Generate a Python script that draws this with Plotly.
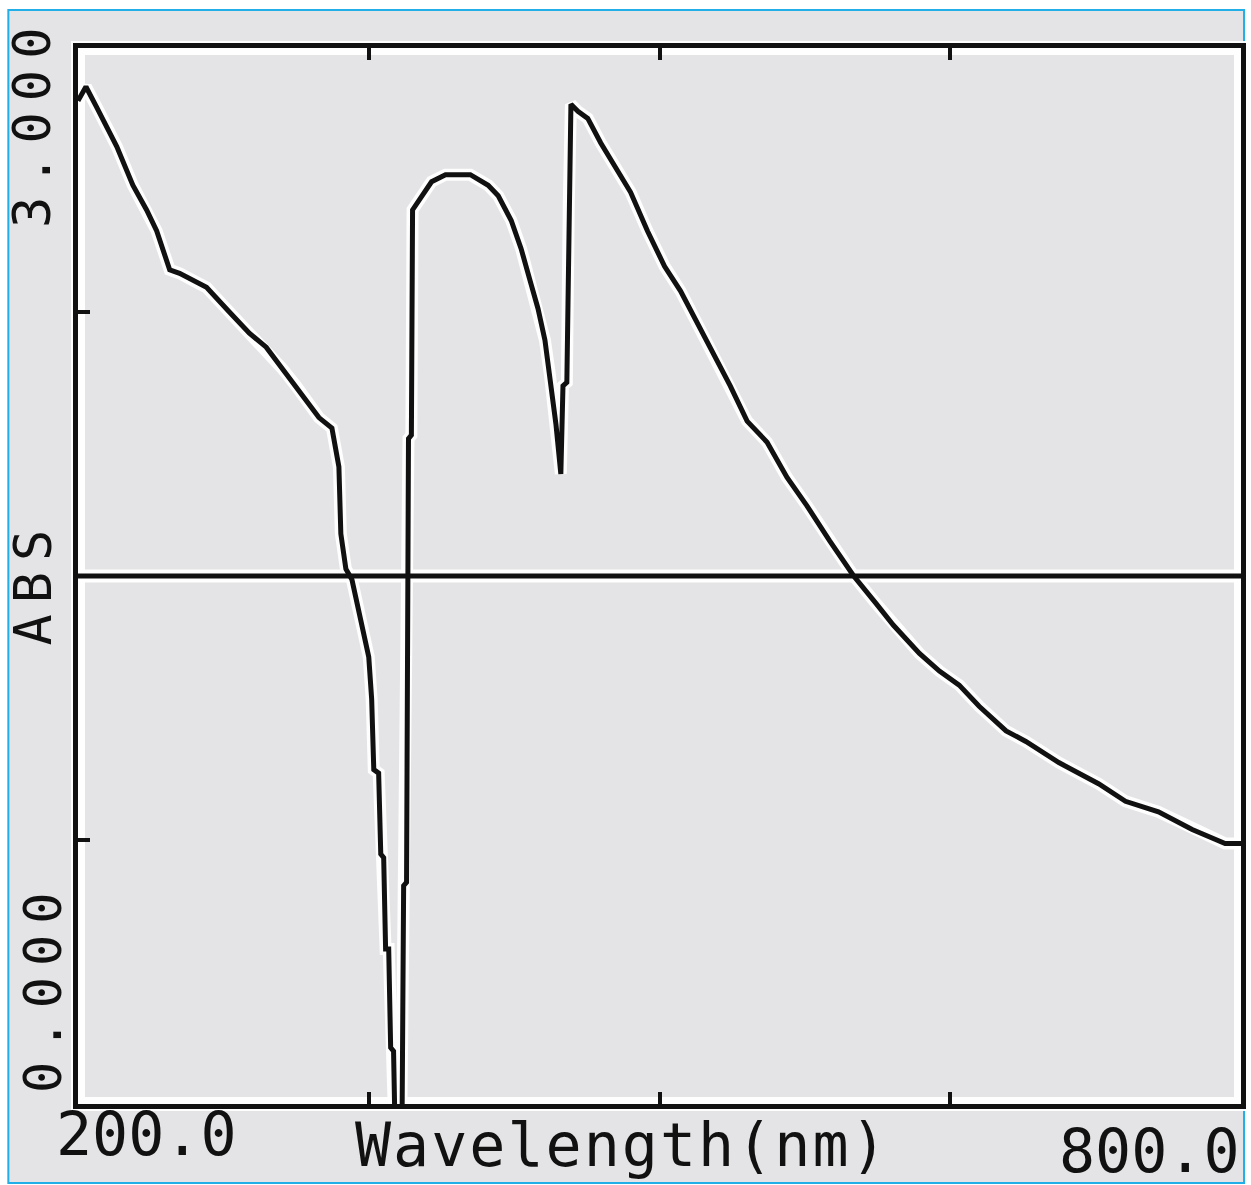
import plotly.graph_objects as go

# Absorbance spectrum, 200-800 nm
wavelength_nm = [
    200.0, 204.1, 209.8, 220.0, 228.3, 235.4, 240.6, 247.3, 252.4, 262.7,
    266.3, 278.1, 288.4, 297.1, 305.3, 312.5, 324.3, 331.0, 334.6, 335.6,
    338.2, 341.3, 343.8, 346.4, 350.0, 351.5, 352.6, 355.1, 356.2, 357.7,
    358.7, 360.3, 361.3, 362.8, 364.0, 366.5, 367.0, 368.0, 369.5, 370.5,
    372.0, 372.6, 382.4, 389.6, 402.4, 411.6, 416.8, 423.5, 428.6, 433.7,
    437.3, 440.9, 443.5, 445.0, 446.6, 449.1, 450.2, 452.2, 453.2, 454.3,
    457.9, 463.0, 469.7, 478.4, 485.1, 493.8, 502.6, 510.8, 519.5, 528.3,
    536.5, 545.2, 555.5, 565.8, 576.0, 587.8, 600.2, 612.0, 620.7, 634.1,
    644.4, 654.6, 664.9, 678.8, 689.0, 706.0, 726.5, 740.4, 757.4, 774.8,
    791.8, 800.0,
]
absorbance = [
    2.85, 2.89, 2.83, 2.72, 2.61, 2.54, 2.48, 2.37, 2.36, 2.33,
    2.32, 2.25, 2.19, 2.15, 2.09, 2.04, 1.95, 1.92, 1.81, 1.62,
    1.52, 1.49, 1.43, 1.37, 1.27, 1.15, 0.95, 0.94, 0.71, 0.70,
    0.44, 0.44, 0.16, 0.15, -0.20, -0.20, -0.20, 0.62, 0.63, 1.89,
    1.90, 2.54, 2.62, 2.64, 2.64, 2.61, 2.58, 2.51, 2.43, 2.33,
    2.26, 2.17, 2.07, 2.01, 1.93, 1.79, 2.04, 2.05, 2.56, 2.84,
    2.82, 2.80, 2.73, 2.65, 2.59, 2.48, 2.38, 2.31, 2.22, 2.13,
    2.04, 1.94, 1.88, 1.78, 1.70, 1.60, 1.50, 1.42, 1.36, 1.28,
    1.23, 1.19, 1.13, 1.06, 1.03, 0.97, 0.91, 0.86, 0.83, 0.78,
    0.74, 0.74,
]

x_range = [200, 800]
y_range = [0, 3]
x_ticks = [350, 500, 650]
y_ticks = [0.75, 1.5, 2.25]
reference_level = 1.5

x_min_label = "200.0"
x_max_label = "800.0"
x_title = "Wavelength(nm)"
y_min_label = "0.000"
y_max_label = "3.000"
y_title = "ABS"

INK = "#111111"
SCREEN = "#e4e4e6"
HALO = "rgba(255,255,255,0.95)"
FONT = "DejaVu Sans Mono"

fig = go.Figure()

# white glow behind the trace, then the trace itself
fig.add_trace(go.Scatter(
    x=wavelength_nm, y=absorbance, mode="lines",
    line=dict(color=HALO, width=12), hoverinfo="skip", showlegend=False,
))
fig.add_trace(go.Scatter(
    x=wavelength_nm, y=absorbance, mode="lines",
    line=dict(color=INK, width=5), showlegend=False,
))

shapes = [
    # screen panel with its cyan bezel
    dict(type="rect", xref="paper", yref="paper",
         x0=-0.0599, x1=1.0026, y0=-0.0748, y1=1.036,
         fillcolor=SCREEN, line=dict(color="#22aee6", width=2), layer="below"),
    # glow around the plot frame
    dict(type="rect", xref="paper", yref="paper", x0=0, x1=1, y0=0, y1=1,
         line=dict(color=HALO, width=14), layer="below"),
    # reference level line
    dict(type="line", xref="x", yref="y", x0=x_range[0], x1=x_range[1],
         y0=reference_level, y1=reference_level,
         line=dict(color=HALO, width=13), layer="below"),
    dict(type="line", xref="x", yref="y", x0=x_range[0], x1=x_range[1],
         y0=reference_level, y1=reference_level,
         line=dict(color=INK, width=5), layer="above"),
]


def label(text, x, y, size, spacing, angle=0):
    return dict(
        xref="paper", yref="paper", x=x, y=y, xanchor="center", yanchor="middle",
        text=f'<span style="letter-spacing:{spacing}px">{text}</span>',
        showarrow=False, textangle=angle,
        font=dict(family=FONT, size=size, color=INK),
    )


annotations = [
    label(y_max_label, -0.0394, 0.930, 52, 11, -90),
    label(y_title, -0.0385, 0.494, 52, 11, -90),
    label(y_min_label, -0.030, 0.111, 52, 11, -90),
    label(x_min_label, 0.0591, -0.0284, 60, 0),
    label(x_title, 0.468, -0.0388, 60, 2),
    label(x_max_label, 0.921, -0.0445, 60, 0),
]

fig.update_layout(
    width=1251, height=1185,
    margin=dict(l=78, r=5, t=48, b=81),
    paper_bgcolor="white",
    plot_bgcolor="rgba(0,0,0,0)",
    shapes=shapes,
    annotations=annotations,
    xaxis=dict(
        range=x_range, tickvals=x_ticks, showticklabels=False,
        ticks="inside", ticklen=12, tickwidth=4, tickcolor=INK,
        showline=True, linewidth=5, linecolor=INK, mirror="ticks",
        showgrid=False, zeroline=False, fixedrange=True,
    ),
    yaxis=dict(
        range=y_range, tickvals=y_ticks, showticklabels=False,
        ticks="inside", ticklen=12, tickwidth=4, tickcolor=INK,
        showline=True, linewidth=5, linecolor=INK, mirror=True,
        showgrid=False, zeroline=False, fixedrange=True,
    ),
)

fig.write_html("out.html")
